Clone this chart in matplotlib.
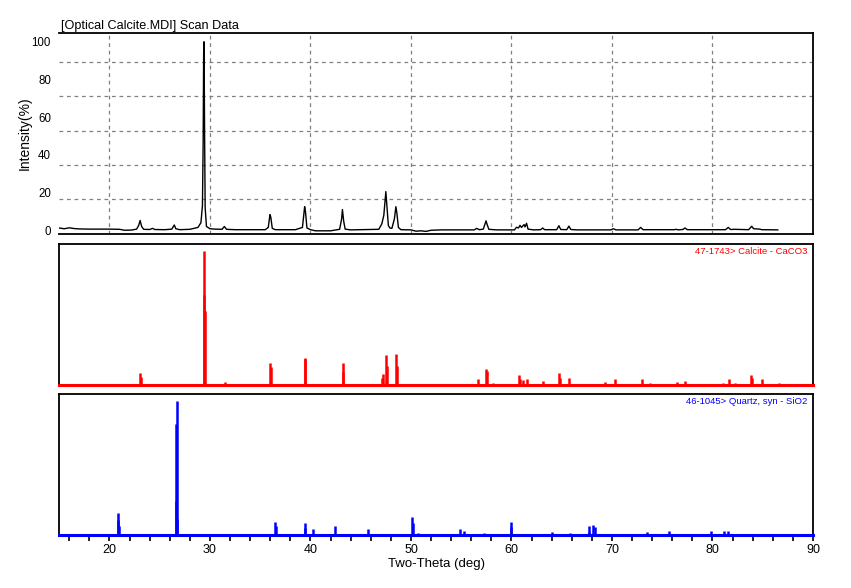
import matplotlib
matplotlib.use("Agg")
import matplotlib.pyplot as plt

plt.rcParams['font.family'] = ['Liberation Sans', 'DejaVu Sans']

# scan data (2-theta, intensity %)
scan_2theta = [15.0, 15.5, 16.0, 16.5, 17.0, 18.0, 19.0, 20.0, 21.0, 21.5, 22.2, 22.7, 22.9, 23.05, 23.2, 23.4,
               24.0, 24.3, 24.5, 25.5, 26.2, 26.45, 26.6, 27.0, 28.0, 28.8, 29.1, 29.25, 29.32, 29.37, 29.41,
               29.46, 29.52, 29.65, 30.0, 30.5, 31.2, 31.43, 31.65, 32.5, 33.5, 35.5, 35.8, 35.97, 36.05, 36.2,
               36.5, 38.5, 39.2, 39.42, 39.5, 39.65, 40.0, 40.5, 42.0, 42.9, 43.1, 43.18, 43.3, 43.45, 44.0,
               45.0, 46.8, 47.1, 47.3, 47.5, 47.6, 47.75, 47.9, 48.1, 48.35, 48.5, 48.6, 48.75, 49.0, 50.0,
               50.5, 51.0, 51.5, 52.0, 53.0, 56.3, 56.54, 56.8, 57.2, 57.47, 57.6, 57.75, 58.5, 60.3, 60.5,
               60.7, 60.85, 61.0, 61.25, 61.35, 61.5, 61.65, 62.2, 62.9, 63.1, 63.3, 64.5, 64.72, 64.9, 65.5,
               65.72, 65.9, 66.5, 69.9, 70.13, 70.4, 72.6, 72.85, 73.1, 76.2, 76.4, 76.6, 77.05, 77.26, 77.5,
               81.3, 81.57, 81.8, 82.2, 83.6, 83.9, 84.1, 84.7, 84.9, 86.5]
scan_int = [1.2, 0.8, 1.3, 0.9, 0.7, 0.6, 0.6, 0.6, 0.5, 0.0, 0.1, 0.6, 2.5, 5.2, 2.0, 0.5,
            0.4, 1.0, 0.4, 0.3, 0.6, 2.8, 0.8, 0.3, 0.5, 1.5, 4.0, 13, 46, 94, 100,
            55, 12, 2.0, 0.8, 0.6, 0.5, 2.0, 0.5, 0.3, 0.3, 0.3, 1.5, 8.3, 7.0, 1.0,
            0.3, 0.3, 1.5, 12.5, 10, 1.2, 0.3, -0.3, -0.3, 0.5, 6.0, 11, 5.0, 0.6, 0.2,
            0.3, 0.5, 3.4, 8.0, 20.5, 13, 2.5, 1.2, 1.0, 6.0, 12.5, 9.0, 1.5, 0.3, 0.2,
            -0.5, -0.3, -0.6, 0.0, 0.2, 0.2, 1.0, 0.3, 0.6, 5.0, 2.7, 0.5, 0.2, 0.2, 1.6,
            1.2, 2.6, 1.5, 3.0, 1.8, 3.7, 0.6, 0.2, 0.3, 1.2, 0.3, 0.3, 2.4, 0.4, 0.3,
            2.2, 0.4, 0.2, 0.2, 0.8, 0.2, 0.2, 1.5, 0.3, 0.3, 0.5, 0.2, 0.4, 1.2, 0.3,
            0.3, 1.5, 0.4, 0.5, 0.3, 2.1, 0.8, 0.6, 0.3, 0.2]

# reference pattern 47-1743 Calcite (2-theta, relative intensity)
calcite_2theta = [23.05, 23.12, 29.40, 29.45, 29.50, 31.52, 36.02, 36.10, 39.43, 39.50, 43.20, 43.28,
                  47.15, 47.25, 47.55, 47.62, 48.55, 48.62, 56.70, 57.45, 57.52, 58.20, 60.72, 60.80,
                  61.10, 61.50, 63.15, 64.72, 64.80, 65.75, 69.30, 70.35, 73.00, 73.80, 76.45, 77.30,
                  81.00, 81.65, 82.25, 83.85, 83.95, 84.95, 86.60]
calcite_int = [9, 6, 67, 100, 55, 2, 16, 13, 20, 19, 16.5, 9.5,
               5, 8, 22, 14, 23, 14, 4.5, 12, 10, 1.5, 7, 4,
               3.5, 4, 3, 9, 5, 5, 2, 3.8, 3.8, 1.5, 2, 3,
               1.2, 3.8, 1, 7.5, 5, 3.8, 1.3]

# reference pattern 46-1045 Quartz, syn (2-theta, relative intensity)
quartz_2theta = [20.82, 20.88, 20.95, 26.58, 26.62, 26.67, 26.72, 36.48, 36.55, 39.42, 39.50, 40.30,
                 42.44, 45.76, 50.12, 50.20, 50.65, 54.87, 55.27, 57.23, 59.92, 60.00, 64.06, 65.82,
                 67.70, 67.76, 68.14, 68.33, 73.50, 75.68, 77.70, 79.90, 81.15, 81.50, 83.85, 84.95,
                 87.45]
quartz_int = [11, 16, 6.5, 25, 83, 100, 12, 9.5, 6.5, 8.7, 5, 4,
              6.5, 4, 13, 9, 1, 4, 2.5, 1, 6, 9.2, 2.2, 1,
              6.5, 2, 7, 5.5, 2.2, 3, 0.7, 2.5, 2.5, 2.5, 0.7, 0.7,
              0.7]

x_ticks = [20, 30, 40, 50, 60, 70, 80, 90]


def main():
    fig = plt.figure(figsize=(8.51, 5.88), dpi=100)
    left, width = 0.0696, 0.8857
    ax1 = fig.add_axes([left, 0.602, width, 0.3414])
    ax2 = fig.add_axes([left, 0.346, width, 0.2385])
    ax3 = fig.add_axes([left, 0.0907, width, 0.2388])

    for ax in (ax1, ax2, ax3):
        ax.set_xlim(15, 90)
        for s in ax.spines.values():
            s.set_linewidth(1.3)
            s.set_color('black')

    # scan data
    ax1.plot(scan_2theta, scan_int, color='black', lw=1.0)
    ax1.set_ylim(-2.0, 104.5)
    ax1.set_yticks([0, 20, 40, 60, 80, 100])
    ax1.set_yticks([16.6, 34.4, 52.8, 71.0, 89.4], minor=True)
    ax1.set_xticks(x_ticks[:-1])
    ax1.grid(True, which='major', axis='x', color='#808080', ls=(0, (3, 3)), lw=0.9)
    ax1.grid(True, which='minor', axis='y', color='#808080', ls=(0, (3, 3)), lw=0.9)
    ax1.tick_params(axis='x', length=0, labelbottom=False)
    ax1.tick_params(axis='y', which='both', length=0, pad=6, labelsize=8.3)
    ax1.spines['left'].set_visible(False)
    ax1.set_ylabel('Intensity(%)', fontsize=10)
    ax1.yaxis.set_label_coords(-0.0365, 0.5)
    ax1.text(0.003, 1.008, '[Optical Calcite.MDI] Scan Data', transform=ax1.transAxes,
             fontsize=9.1, ha='left', va='bottom')

    # stick patterns
    for ax, tt, ii, col, name in [(ax2, calcite_2theta, calcite_int, 'red', '47-1743> Calcite - CaCO3'),
                                  (ax3, quartz_2theta, quartz_int, 'blue', '46-1045> Quartz, syn - SiO2')]:
        ax.vlines(tt, 0, ii, color=col, lw=1.8)
        ax.axhline(0, color=col, lw=2.2, zorder=5, clip_on=False)
        ax.set_ylim(0, 105.3)
        ax.set_yticks([])
        ax.text(0.993, 0.947, name, transform=ax.transAxes, color=col, fontsize=6.8,
                ha='right', va='center')

    ax2.set_xticks([])
    ax3.set_xticks(x_ticks)
    ax3.set_xticks(range(16, 90, 2), minor=True)
    ax3.tick_params(axis='x', which='both', direction='out', length=4, width=1.2, labelsize=9, pad=3)
    ax3.set_xlabel('Two-Theta (deg)', fontsize=9.5, labelpad=1)

    fig.savefig('out.png', dpi=100)


if __name__ == "__main__":
    main()
